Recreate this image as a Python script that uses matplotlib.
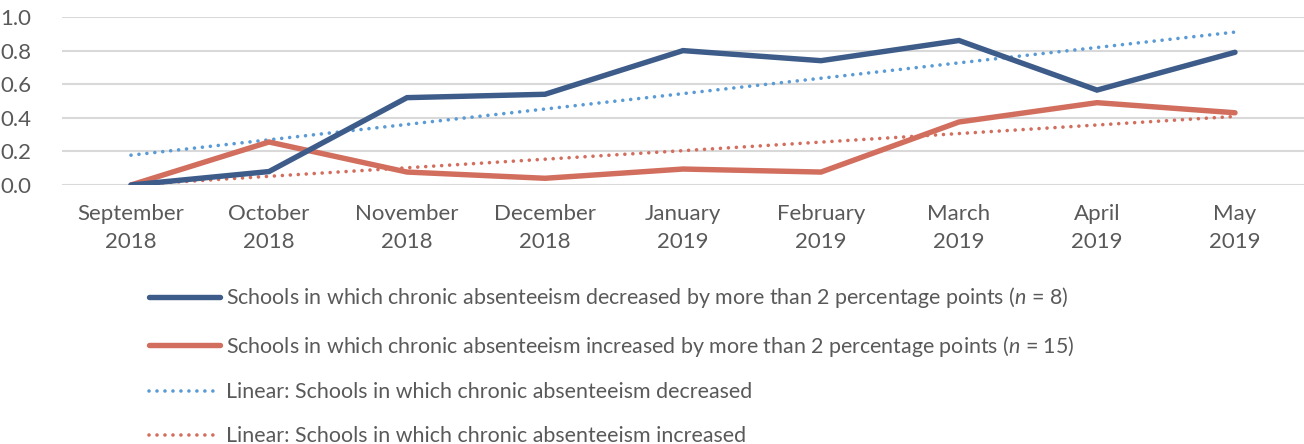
import numpy as np
import matplotlib
matplotlib.use('Agg')
import matplotlib.pyplot as plt
from matplotlib import ticker


MONTHS = [
    'September\n2018', 'October\n2018', 'November\n2018', 'December\n2018',
    'January\n2019', 'February\n2019', 'March\n2019', 'April\n2019',
    'May\n2019',
]
DECREASED = [0.00, 0.08, 0.52, 0.54, 0.80, 0.74, 0.86, 0.565, 0.79]
INCREASED = [0.00, 0.256, 0.077, 0.04, 0.095, 0.077, 0.375, 0.49, 0.43]

LABELS = [
    'Schools in which chronic absenteeism decreased by more than 2 '
    'percentage points ($n$ = 8)',
    'Schools in which chronic absenteeism increased by more than 2 '
    'percentage points ($n$ = 15)',
    'Linear: Schools in which chronic absenteeism decreased',
    'Linear: Schools in which chronic absenteeism increased',
]

BLUE = '#3e5c89'
RED = '#d26e5e'
LIGHT_BLUE = '#5b9bd5'
TEXT = '#595959'
GRID = '#d9d9d9'

plt.rcParams['font.family'] = ['Lato', 'DejaVu Sans']
plt.rcParams['mathtext.fontset'] = 'custom'
plt.rcParams['mathtext.rm'] = 'Lato'
plt.rcParams['mathtext.it'] = 'Lato:italic'
plt.rcParams['font.size'] = 16
plt.rcParams['text.color'] = TEXT


def trend(values):
  xs = np.arange(len(values))
  slope, icept = np.polyfit(xs, values, 1)
  return xs, slope * xs + icept


fig = plt.figure(figsize=(13.04, 4.44), dpi=100)
ax = fig.add_axes([62 / 1304, 1 - 185 / 444, 1 - 62 / 1304, 168 / 444])

xs = np.arange(len(MONTHS))
ax.plot(xs, DECREASED, color=BLUE, lw=3.9, solid_joinstyle='miter',
        solid_capstyle='round', label=LABELS[0], zorder=4)
ax.plot(xs, INCREASED, color=RED, lw=3.9, solid_joinstyle='miter',
        solid_capstyle='round', label=LABELS[1], zorder=3)
dots = dict(lw=2.6, linestyle=(0, (0.01, 2.2)), dash_capstyle='round')
tx, ty = trend(DECREASED)
ax.plot(tx, ty, color=LIGHT_BLUE, label=LABELS[2], zorder=2, **dots)
tx, ty = trend(INCREASED)
ax.plot(tx, ty, color=RED, label=LABELS[3], zorder=2, **dots)

ax.set_xlim(-0.5, len(MONTHS) - 0.5)
ax.set_ylim(0, 1.0)
ax.set_xticks(xs)
ax.set_xticklabels(MONTHS, linespacing=1.46)
ax.yaxis.set_major_locator(ticker.MultipleLocator(0.2))
ax.yaxis.set_major_formatter(ticker.FormatStrFormatter('%.1f'))
ax.tick_params(axis='both', length=0, colors=TEXT, labelsize=16)
ax.tick_params(axis='y', pad=22)
ax.tick_params(axis='x', pad=14)
ax.grid(axis='y', color=GRID, lw=1.5)
ax.set_axisbelow(True)
for spine in ax.spines.values():
  spine.set_visible(False)

leg = fig.legend(
    loc='upper left', bbox_to_anchor=(149 / 1304, 1 - 285 / 444),
    frameon=False, borderpad=0, borderaxespad=0, handlelength=3.3,
    handletextpad=0.3, labelspacing=1.11, fontsize=15.4)
for text in leg.get_texts():
  text.set_color(TEXT)

fig.savefig('out.png', dpi=100)
